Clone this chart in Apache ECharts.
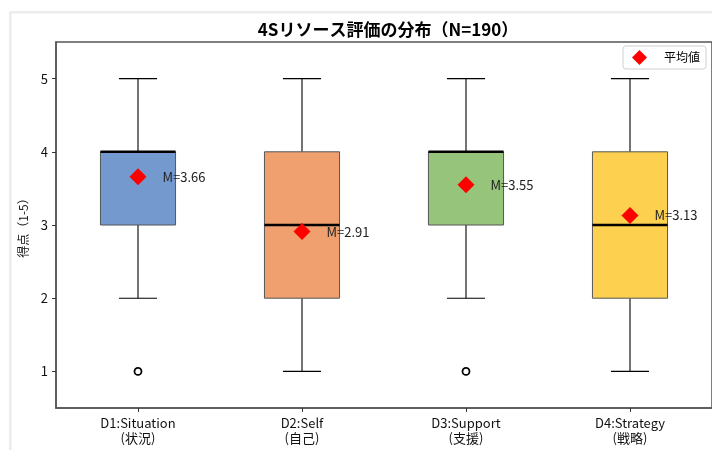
<!DOCTYPE html>
<html>
<head>
<meta charset="utf-8">
<script src="https://cdn.jsdelivr.net/npm/echarts@6/dist/echarts.min.js"></script>
<style>
  html, body { margin: 0; padding: 0; background: #fff; }
  #chart { width: 712px; height: 450px; }
</style>
</head>
<body>
<div id="chart"></div>
<script>
// 4S resource scores: five-number summaries, outliers and means per dimension
const categories = ['D1:Situation\n(状況)', 'D2:Self\n(自己)', 'D3:Support\n(支援)', 'D4:Strategy\n(戦略)'];
const minVals    = [2, 1, 2, 1];
const q1Vals     = [3, 2, 3, 2];
const medianVals = [4, 3, 4, 3];
const q3Vals     = [4, 4, 4, 4];
const maxVals    = [5, 5, 5, 5];
const meanVals   = [3.66, 2.91, 3.55, 3.13];
const outlierPoints = [[0, 1], [2, 1]];
const yTicks = [1, 2, 3, 4, 5];

const boxColors = ['#7499cf', '#f0a06f', '#97c47b', '#fdd14f'];
const FONT = '"Noto Sans CJK JP", "Noto Sans", sans-serif';

const boxData = categories.map((c, i) => [i, minVals[i], q1Vals[i], medianVals[i], q3Vals[i], maxVals[i]]);
const meanData = meanVals.map((m, i) => [i, m]);

function renderBox(params, api) {
  const i = api.value(0);
  const band = api.size([1, 0])[0];
  const halfBox = band * 0.229;
  const halfCap = band * 0.116;
  const pMin = api.coord([i, api.value(1)]);
  const pQ1 = api.coord([i, api.value(2)]);
  const pMed = api.coord([i, api.value(3)]);
  const pQ3 = api.coord([i, api.value(4)]);
  const pMax = api.coord([i, api.value(5)]);
  const cx = pMin[0];
  const lineStyle = { stroke: '#000', lineWidth: 1.1 };
  return {
    type: 'group',
    children: [
      { type: 'line', shape: { x1: cx, y1: pQ1[1], x2: cx, y2: pMin[1] }, style: lineStyle },
      { type: 'line', shape: { x1: cx, y1: pQ3[1], x2: cx, y2: pMax[1] }, style: lineStyle },
      { type: 'line', shape: { x1: cx - halfCap, y1: pMin[1], x2: cx + halfCap, y2: pMin[1] }, style: lineStyle },
      { type: 'line', shape: { x1: cx - halfCap, y1: pMax[1], x2: cx + halfCap, y2: pMax[1] }, style: lineStyle },
      {
        type: 'rect',
        shape: { x: cx - halfBox, y: pQ3[1], width: halfBox * 2, height: pQ1[1] - pQ3[1] },
        style: { fill: boxColors[i], stroke: '#555', lineWidth: 1 }
      },
      { type: 'line', shape: { x1: cx - halfBox, y1: pMed[1], x2: cx + halfBox, y2: pMed[1] }, style: { stroke: '#000', lineWidth: 2.6 } }
    ]
  };
}

const chart = echarts.init(document.getElementById('chart'), null, { renderer: 'canvas' });
chart.setOption({
  animation: false,
  backgroundColor: '#fff',
  textStyle: { fontFamily: FONT },
  graphic: [{
    type: 'rect',
    silent: true,
    shape: { x: 10.3, y: 12.2, width: 800, height: 500 },
    style: { fill: 'none', stroke: '#ececec', lineWidth: 2.5 }
  }],
  title: {
    text: '4Sリソース評価の分布（N=190）',
    left: 383,
    top: 16,
    textAlign: 'center',
    textStyle: { fontFamily: FONT, fontSize: 17, fontWeight: 'bold', color: '#000' }
  },
  legend: {
    data: [{ name: '平均値', icon: 'diamond' }],
    right: 6,
    top: 46,
    itemWidth: 15,
    itemHeight: 15,
    padding: [4, 6, 4, 9],
    borderColor: '#d0d0d0',
    borderWidth: 1,
    borderRadius: 3,
    textStyle: { fontFamily: FONT, fontSize: 12, color: '#000', padding: [0, 0, 0, 12] }
  },
  grid: {
    left: 56,
    top: 42,
    width: 658,
    height: 366,
    show: true,
    borderColor: '#555',
    borderWidth: 1.5,
    containLabel: false
  },
  xAxis: {
    type: 'category',
    data: categories,
    boundaryGap: true,
    axisLine: { show: true, lineStyle: { color: '#555', width: 1.5 } },
    axisTick: { show: true, alignWithLabel: true, length: 4, lineStyle: { color: '#333' } },
    axisLabel: { fontFamily: FONT, fontSize: 13, color: '#111', lineHeight: 15, margin: 8 },
    splitLine: { show: false }
  },
  yAxis: {
    type: 'value',
    min: 0.5,
    max: 5.5,
    name: '得点（1-5）',
    nameLocation: 'middle',
    nameRotate: 90,
    nameGap: 22,
    nameTextStyle: { fontFamily: FONT, fontSize: 12, color: '#111' },
    axisLine: { show: true, lineStyle: { color: '#555', width: 1.5 } },
    axisTick: { show: true, length: 4, customValues: yTicks, lineStyle: { color: '#333' } },
    axisLabel: { fontFamily: FONT, fontSize: 13, color: '#111', margin: 8, customValues: yTicks },
    splitLine: { show: false }
  },
  series: [
    {
      name: 'box',
      type: 'custom',
      renderItem: renderBox,
      data: boxData,
      encode: { x: 0, y: [1, 2, 3, 4, 5] },
      z: 2
    },
    {
      name: 'outlier',
      type: 'scatter',
      data: outlierPoints,
      symbol: 'circle',
      symbolSize: 7,
      itemStyle: { color: '#fff', borderColor: '#000', borderWidth: 1.8, opacity: 1 },
      z: 3
    },
    {
      name: '平均値',
      type: 'scatter',
      data: meanData,
      symbol: 'diamond',
      symbolSize: 17,
      itemStyle: { color: '#ff0000', opacity: 1 },
      label: {
        show: true,
        position: 'right',
        distance: 16,
        formatter: (p) => 'M=' + p.value[1].toFixed(2),
        fontFamily: FONT,
        fontSize: 13,
        color: '#222'
      },
      z: 4
    }
  ]
});
</script>
</body>
</html>
